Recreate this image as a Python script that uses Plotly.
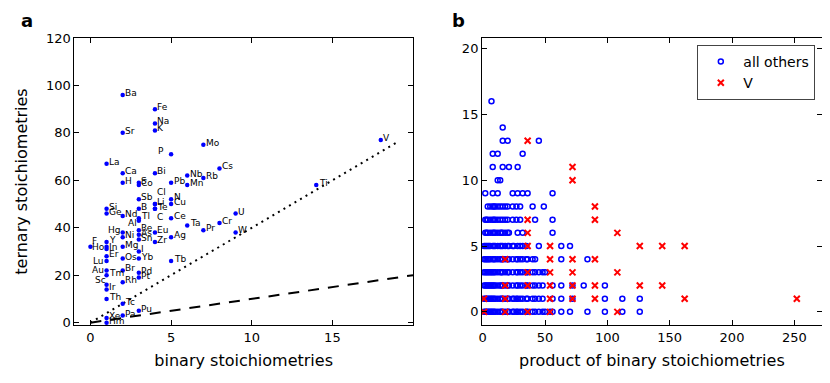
import plotly.graph_objects as go

# panel a: elements, binary and ternary stoichiometries
elements = ["Ba", "Fe", "Na", "K", "Sr", "Mo", "P", "La", "Cs", "Ca", "Bi", "Nb", "Rb",
            "H", "S", "Pb", "Co", "Mn", "Ti", "V", "Cl", "N", "Sb", "Li", "Cu", "Si",
            "B", "Te", "C", "Ge", "U", "Nd", "Tl", "Ce", "Al", "Cr", "Ta", "Re", "Pr",
            "Hg", "Eu", "W", "As", "Ni", "Ag", "Sn", "Y", "Zr", "F", "Mg", "Ho", "In",
            "I", "Er", "Os", "Yb", "Lu", "Tb", "Au", "Br", "Pd", "Tm", "Pt", "Rh", "Sc",
            "Ir", "Th", "Tc", "Pu", "Pa", "Xe", "Hm"]
binary = [2, 4, 4, 4, 2, 7, 5, 1, 8, 2, 4, 6, 7,
          2, 3, 5, 3, 6, 14, 18, 4, 5, 3, 4, 5, 1,
          3, 4, 4, 1, 9, 2, 3, 5, 3, 8, 6, 3, 7,
          2, 4, 9, 3, 2, 5, 3, 1, 4, 0, 2, 1, 1,
          3, 1, 2, 3, 1, 5, 1, 2, 3, 1, 3, 2, 1,
          1, 1, 2, 3, 2, 1, 1]
ternary = [96, 90, 84, 81, 80, 75, 71, 67, 65, 63, 63, 62, 61,
           59, 59, 59, 58, 58, 58, 77, 50, 52, 52, 50, 50, 48,
           48, 48, 48, 46, 46, 45, 44, 44, 43, 42, 41, 39, 39,
           38, 38, 38, 37, 36, 36, 35, 34, 34, 32, 32, 32, 31,
           30, 28, 27, 27, 26, 26, 22, 22, 21, 20, 19, 17, 16,
           14, 10, 8, 5, 3, 2, 0]

line_x = [0, 20]
dotted_x = [0, 19]

# panel b: product of binary stoichiometries, by ternary stoichiometry
others_y0 = [1, 2, 3, 4, 5, 6, 7, 8, 9, 10, 12, 14, 15, 16, 18, 20, 21, 24, 25, 27, 28, 30, 32, 35,
             36, 40, 42, 45, 48, 50, 54, 56, 63, 70, 84, 98, 112, 126]
others_y1 = [1, 2, 3, 4, 5, 6, 7, 8, 9, 10, 12, 14, 15, 16, 18, 20, 21, 24, 25, 27, 28, 30, 32, 35,
             36, 40, 42, 45, 48, 56, 63, 72, 98, 112, 126]
others_y2 = [1, 2, 3, 4, 5, 6, 7, 8, 9, 10, 12, 14, 15, 16, 18, 20, 21, 24, 27, 28, 30, 32, 35, 36,
             40, 42, 45, 48, 56, 63, 72, 81, 98]
others_y3 = [1, 2, 3, 4, 5, 6, 7, 8, 9, 10, 12, 14, 15, 16, 18, 20, 21, 24, 27, 28, 30, 32, 35, 36,
             40, 42, 45, 48, 50]
others_y4 = [1, 2, 3, 4, 5, 6, 8, 9, 10, 12, 14, 15, 16, 18, 20, 21, 24, 27, 28, 30, 32, 35, 36,
             40, 42, 63, 84]
others_y5 = [1, 2, 3, 4, 5, 6, 8, 9, 10, 12, 14, 15, 16, 18, 20, 21, 24, 25, 28, 30, 32, 35, 45,
             63, 70]
others_y6 = [2, 3, 4, 6, 8, 9, 10, 12, 14, 15, 16, 18, 20, 21, 28, 32, 56]
others_y7 = [2, 3, 4, 6, 8, 9, 10, 12, 14, 16, 18, 20, 24, 27, 30, 42, 56]
others_y8 = [4, 6, 8, 9, 10, 12, 14, 16, 18, 20, 24, 27, 30, 40, 49]
others_y9 = [2, 8, 12, 24, 28, 32, 36, 56]
others_y10 = [12, 14]
others_y11 = [8, 16, 21, 28]
others_y12 = [8, 12, 32]
others_y13 = [16, 20, 45]
others_y14 = [16]
others_y16 = [7]

v_y0 = [1, 18, 36, 54, 108]
v_y1 = [1, 18, 54, 72, 90, 162, 252]
v_y2 = [18, 36, 54, 72, 90, 126, 144]
v_y3 = [36, 54, 72, 108]
v_y4 = [18, 54, 72, 90]
v_y5 = [36, 54, 126, 144, 162]
v_y6 = [36, 108]
v_y7 = [36, 90]
v_y8 = [90]
v_y10 = [72]
v_y11 = [72]
v_y13 = [36]

others_rows = [(0, others_y0), (1, others_y1), (2, others_y2), (3, others_y3), (4, others_y4),
               (5, others_y5), (6, others_y6), (7, others_y7), (8, others_y8), (9, others_y9),
               (10, others_y10), (11, others_y11), (12, others_y12), (13, others_y13),
               (14, others_y14), (16, others_y16)]
v_rows = [(0, v_y0), (1, v_y1), (2, v_y2), (3, v_y3), (4, v_y4), (5, v_y5), (6, v_y6),
          (7, v_y7), (8, v_y8), (10, v_y10), (11, v_y11), (13, v_y13)]

ox = [x for y, row in others_rows for x in row]
oy = [y for y, row in others_rows for x in row]
vx = [x for y, row in v_rows for x in row]
vy = [y for y, row in v_rows for x in row]

FONT = "DejaVu Sans"

fig = go.Figure()
fig.add_trace(go.Scatter(x=line_x, y=line_x, mode="lines", showlegend=False,
                         line=dict(color="black", width=2, dash="11px,9px"),
                         xaxis="x", yaxis="y"))
fig.add_trace(go.Scatter(x=dotted_x, y=[4 * v for v in dotted_x], mode="lines", showlegend=False,
                         line=dict(color="black", width=2, dash="2px,4.4px"),
                         xaxis="x", yaxis="y"))
fig.add_trace(go.Scatter(x=binary, y=ternary, mode="markers", showlegend=False,
                         marker=dict(color="#0000ff", size=4.5),
                         xaxis="x", yaxis="y"))

# label placement tweaks (xshift, yshift, anchor)
label_shift = {
    "P": (-7, 3, "right"), "Al": (-2, -2, "right"), "Hg": (-3, 2, "right"),
    "Ho": (-2, 0, "right"), "Lu": (-3, 0, "right"), "Au": (-3, 0, "right"),
    "Sc": (-1, 5, "right"), "Cl": (2, 12, "left"), "C": (2, -8, "left"),
    "F": (1.5, 6, "left"),
}
for name, bx, ty in zip(elements, binary, ternary):
    xs, ys, anc = label_shift.get(name, (2.5, 2, "left"))
    fig.add_annotation(x=bx, y=ty, xref="x", yref="y", text=name, showarrow=False,
                       xanchor=anc, yanchor="middle", xshift=xs, yshift=ys,
                       borderpad=0, borderwidth=0,
                       font=dict(family=FONT, size=9, color="black"))

fig.add_trace(go.Scatter(x=ox, y=oy, mode="markers", name="all others",
                         marker=dict(symbol="circle-open", color="#0000ff", size=5,
                                     line=dict(width=1.5, color="#0000ff")),
                         xaxis="x2", yaxis="y2"))
fig.add_trace(go.Scatter(x=vx, y=vy, mode="markers", name="V",
                         marker=dict(symbol="x-thin", color="#ff0000", size=6,
                                     line=dict(width=2, color="#ff0000")),
                         xaxis="x2", yaxis="y2"))

axis_style = dict(showline=True, linecolor="black", linewidth=1, mirror="allticks",
                  ticks="inside", ticklen=5, tickcolor="black", showgrid=False,
                  zeroline=False, automargin=False,
                  tickfont=dict(family=FONT, size=13, color="black"))

fig.update_layout(
    width=830, height=383,
    margin=dict(l=0, r=0, t=0, b=0),
    paper_bgcolor="white", plot_bgcolor="white",
    font=dict(family=FONT, color="black"),
    xaxis=dict(domain=[0.0799, 0.4880], range=[-1, 20], tickvals=[0, 5, 10, 15, 20],
               ticktext=["0", "5", "10", "15", ""],
               title=dict(text="binary stoichiometries", font=dict(size=16), standoff=11),
               anchor="y", **axis_style),
    yaxis=dict(domain=[0.1723, 0.9217], range=[-1, 120], tickvals=[0, 20, 40, 60, 80, 100, 120],
               title=dict(text="ternary stoichiometries", font=dict(size=16), standoff=14),
               anchor="x", **axis_style),
    xaxis2=dict(domain=[0.5711, 0.9804], range=[-0.6, 272], tickvals=[0, 50, 100, 150, 200, 250],
                title=dict(text="product of binary stoichiometries", font=dict(size=16), standoff=11),
                anchor="y2", **axis_style),
    yaxis2=dict(domain=[0.1723, 0.9217], range=[-1, 20.8], tickvals=[0, 5, 10, 15, 20],
                anchor="x2", **axis_style),
    legend=dict(x=0.8305, y=0.9034, xanchor="left", yanchor="top", itemwidth=35,
                bordercolor="#444", borderwidth=1, bgcolor="white",
                font=dict(family=FONT, size=14, color="black")),
)

fig.add_annotation(x=0.0127, y=1.0, xref="paper", yref="paper", text="<b>a</b>",
                   showarrow=False, xanchor="left", yanchor="top",
                   font=dict(family=FONT, size=18, color="black"))
fig.add_annotation(x=0.532, y=1.0, xref="paper", yref="paper", text="<b>b</b>",
                   showarrow=False, xanchor="left", yanchor="top",
                   font=dict(family=FONT, size=18, color="black"))

fig.write_html("out.html")
